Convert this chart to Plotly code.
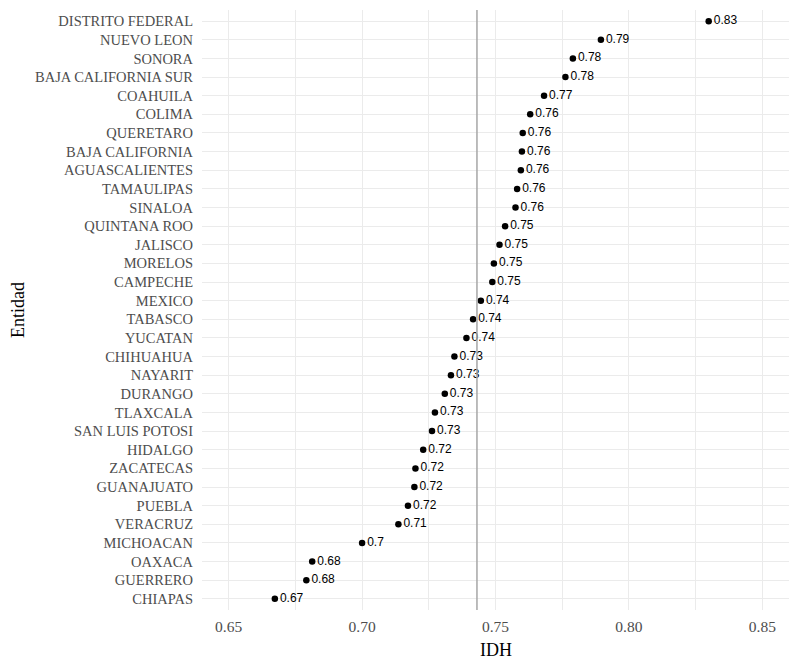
import numpy as np
import plotly.graph_objects as go

# estados, de mayor a menor IDH
entidades = [
    'DISTRITO FEDERAL', 'NUEVO LEON', 'SONORA', 'BAJA CALIFORNIA SUR', 'COAHUILA',
    'COLIMA', 'QUERETARO', 'BAJA CALIFORNIA', 'AGUASCALIENTES', 'TAMAULIPAS',
    'SINALOA', 'QUINTANA ROO', 'JALISCO', 'MORELOS', 'CAMPECHE', 'MEXICO',
    'TABASCO', 'YUCATAN', 'CHIHUAHUA', 'NAYARIT', 'DURANGO', 'TLAXCALA',
    'SAN LUIS POTOSI', 'HIDALGO', 'ZACATECAS', 'GUANAJUATO', 'PUEBLA',
    'VERACRUZ', 'MICHOACAN', 'OAXACA', 'GUERRERO', 'CHIAPAS',
]
idh = [
    0.8299, 0.7895, 0.7790, 0.7762, 0.7682,
    0.7630, 0.7602, 0.7599, 0.7595, 0.7581,
    0.7575, 0.7536, 0.7515, 0.7494, 0.7488, 0.7445,
    0.7416, 0.7391, 0.7346, 0.7333, 0.7310, 0.7273,
    0.7262, 0.7229, 0.7200, 0.7196, 0.7172,
    0.7136, 0.7000, 0.6813, 0.6791, 0.6673,
]
etiquetas = [str(round(v, 2)) for v in idh]

serif = 'Liberation Serif'
grid = '#ebebeb'

fig = go.Figure(go.Scatter(
    x=idh, y=entidades,
    mode='markers+text',
    marker=dict(color='black', size=6.5),
    text=etiquetas,
    textposition='middle right',
    textfont=dict(family='Liberation Sans', size=12, color='black'),
    cliponaxis=False,
    showlegend=False,
))

# mediana
fig.add_vline(x=float(np.median(idh)), line_color='#a6a6a6', line_width=1.5)

# titulos de ejes
fig.add_annotation(text='IDH', xref='paper', yref='paper', x=0.5, y=0,
                   yanchor='middle', yshift=-40, showarrow=False,
                   font=dict(family=serif, size=18, color='black'))
fig.add_annotation(text='Entidad', xref='paper', yref='paper', x=0, y=0.5,
                   xanchor='center', xshift=-184, textangle=-90, showarrow=False,
                   font=dict(family=serif, size=18, color='black'))

# la pagina deja 8px de margen en el body
fig.update_layout(
    width=784, height=658,
    margin=dict(l=194, r=3, t=2, b=56),
    plot_bgcolor='white',
    paper_bgcolor='white',
    font=dict(family=serif, color='#4d4d4d'),
    xaxis=dict(
        range=[0.640, 0.860],
        tick0=0.65, dtick=0.05, tickformat='.2f',
        showgrid=True, gridcolor=grid, gridwidth=1.3,
        minor=dict(dtick=0.025, showgrid=True, gridcolor=grid, gridwidth=0.8),
        zeroline=False, showline=False, ticks='',
        automargin=False,
        ticklabelstandoff=5,
        tickfont=dict(family=serif, size=15.5, color='#4d4d4d'),
    ),
    yaxis=dict(
        type='category',
        categoryorder='array', categoryarray=entidades,
        range=[len(entidades) - 0.4, -0.6],
        showgrid=True, gridcolor=grid, gridwidth=1.3,
        zeroline=False, showline=False, ticks='',
        automargin=False,
        ticklabelstandoff=8,
        tickfont=dict(family=serif, size=14.5, color='#4d4d4d'),
    ),
)

fig.write_html('out.html')
